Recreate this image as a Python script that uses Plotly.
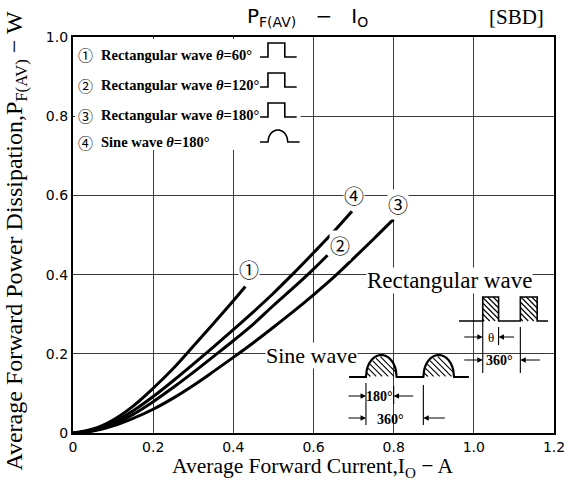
import math
import plotly.graph_objects as go

# ---------------- data ----------------
x1 = [0, 0.05, 0.1, 0.15, 0.2, 0.25, 0.3, 0.35, 0.4, 0.43]
y1 = [0, 0.010, 0.033, 0.068, 0.113, 0.163, 0.219, 0.276, 0.334, 0.370]

x2 = [0, 0.05, 0.1, 0.15, 0.2, 0.25, 0.3, 0.35, 0.4, 0.45, 0.5, 0.55, 0.6, 0.635]
y2 = [0, 0.006, 0.022, 0.047, 0.079, 0.115, 0.153, 0.193, 0.233, 0.275, 0.322, 0.367, 0.414, 0.449]

x3 = [0, 0.05, 0.1, 0.15, 0.2, 0.25, 0.3, 0.35, 0.4, 0.45, 0.5, 0.55, 0.6, 0.65, 0.7, 0.75, 0.8]
y3 = [0, 0.005, 0.018, 0.037, 0.060, 0.088, 0.120, 0.155, 0.191, 0.228, 0.267, 0.307, 0.349, 0.393, 0.441, 0.490, 0.540]

x4 = [0, 0.05, 0.1, 0.15, 0.2, 0.25, 0.3, 0.35, 0.4, 0.45, 0.5, 0.55, 0.6, 0.65, 0.696]
y4 = [0, 0.008, 0.027, 0.056, 0.092, 0.132, 0.174, 0.217, 0.261, 0.306, 0.353, 0.403, 0.455, 0.508, 0.560]

curve_marks = ["①", "②", "③", "④"]
legend_labels = [
    "Rectangular wave <i>θ</i>=60°",
    "Rectangular wave <i>θ</i>=120°",
    "Rectangular wave <i>θ</i>=180°",
    "Sine wave <i>θ</i>=180°",
]
x_ticks = [0, 0.2, 0.4, 0.6, 0.8, 1.0, 1.2]
x_ticktext = ["0", "0.2", "0.4", "0.6", "0.8", "1.0", "1.2"]
y_ticks = [0, 0.2, 0.4, 0.6, 0.8, 1.0]
y_ticktext = ["0", "0.2", "0.4", "0.6", "0.8", "1.0"]

# ---------------- layout geometry ----------------
W, H = 577, 480
L, R, T, B = 73, 559, 37, 433


def px(x):
    return (x - L) / (R - L)


def py(y):
    return (B - y) / (B - T)


fig = go.Figure()
for xs, ys in [(x1, y1), (x2, y2), (x3, y3), (x4, y4)]:
    fig.add_trace(go.Scatter(x=xs, y=ys, mode="lines", line=dict(color="black", width=3, shape="spline"),
                             showlegend=False, hoverinfo="skip"))

shapes = []
annotations = []


def line(xa, ya, xb, yb, w=1.3):
    shapes.append(dict(type="line", xref="paper", yref="paper", layer="above",
                       x0=px(xa), y0=py(ya), x1=px(xb), y1=py(yb),
                       line=dict(color="black", width=w)))


def poly(points, w=1.6):
    d = "M " + " L ".join(f"{px(a):.5f},{py(b):.5f}" for a, b in points)
    shapes.append(dict(type="path", xref="paper", yref="paper", layer="above", path=d,
                       line=dict(color="black", width=w)))


def text(x, y, s, size=13, family="Liberation Serif", xanchor="center", bg=None, color="black"):
    a = dict(xref="paper", yref="paper", x=px(x), y=py(y), text=s, showarrow=False,
             xanchor=xanchor, yanchor="middle", font=dict(family=family, size=size, color=color))
    if bg:
        a["bgcolor"] = bg
        a["borderpad"] = 0
    annotations.append(a)


def arrow(x, y, xt, yt):
    annotations.append(dict(xref="paper", yref="paper", x=px(x), y=py(y), ax=xt - x, ay=yt - y,
                            text="", showarrow=True, arrowhead=2, arrowsize=0.9, arrowwidth=1.2,
                            arrowcolor="black", standoff=0))


def ellipse_top(xa, xb, yb, h, x):
    xc = (xa + xb) / 2
    a = (xb - xa) / 2
    t = max(0.0, 1 - ((x - xc) / a) ** 2)
    return yb - h * math.sqrt(t)


def hatch_rect(x0, x1_, y0, y1_, step=5.5):
    c = y0 - x1_
    while c < y1_ - x0:
        xa = max(x0, y0 - c)
        xb = min(x1_, y1_ - c)
        if xb > xa:
            line(xa, xa + c, xb, xb + c, 1.1)
        c += step


def hatch_hump(xa, xb, yb, h, step=6.0):
    c = (yb - h) - xb
    while c < yb - xa:
        pts = []
        n = 200
        for i in range(n + 1):
            x = xa + (xb - xa) * i / n
            y = x + c
            if ellipse_top(xa, xb, yb, h, x) + 1.5 <= y <= yb - 0.5:
                pts.append((x, y))
        if len(pts) > 2:
            line(pts[0][0], pts[0][1], pts[-1][0], pts[-1][1], 1.1)
        c += step


# white area behind the in-plot legend (grid interrupted there)
shapes.append(dict(type="rect", xref="paper", yref="paper", layer="above",
                   x0=px(75), x1=px(303), y0=py(150), y1=py(39),
                   fillcolor="white", line=dict(width=0)))

# legend rows
rows = [55, 85, 115, 142]
for i, ry in enumerate(rows):
    text(86, ry, curve_marks[i], size=15, family="Noto Sans CJK JP")
    text(99, ry, "<b>" + legend_labels[i] + "</b>", size=14.5, family="Liberation Serif", xanchor="left")

# legend icons
for ry in rows[:3]:
    poly([(262, ry + 2), (270, ry + 2), (270, ry - 12), (287, ry - 12), (287, ry + 2), (299, ry + 2)])
ry = rows[3]
hump = [(262, ry)]
for i in range(31):
    x = 270 + 20 * i / 30
    hump.append((x, ellipse_top(270, 290, ry, 12, x)))
hump.append((302, ry))
poly(hump)

# curve number labels
for mk, (lx, ly) in zip(curve_marks, [(0.439, 0.412), (0.666, 0.473), (0.81, 0.577), (0.70, 0.60)]):
    annotations.append(dict(x=lx, y=ly, xref="x", yref="y", text=mk, showarrow=False,
                            font=dict(family="Noto Sans CJK JP", size=20, color="black"),
                            bgcolor="white", borderpad=0))

# Rectangular wave diagram
text(453, 280, "Rectangular wave", size=23, bg="white")
poly([(463, 321), (487, 321), (487, 297), (503, 297), (503, 321), (525, 321), (525, 297),
      (542, 297), (542, 321), (553, 321)])
hatch_rect(487, 503, 297, 321)
hatch_rect(525, 542, 297, 321)
line(487, 321, 487, 373, 1.1)
line(503, 327, 503, 345, 1.1)
line(525, 327, 525, 373, 1.1)
arrow(487, 337, 467, 337)
arrow(503, 337, 520, 337)
arrow(487, 360, 467, 360)
arrow(525, 360, 546, 360)
text(495, 337, "θ", size=13, family="Liberation Sans Narrow")
text(504, 360, "<b>360°</b>", size=14, family="Liberation Sans Narrow")

# Sine wave diagram
text(314, 355, "Sine wave", size=22, bg="white")
sine = [(352, 377), (369, 377)]
for i in range(41):
    x = 369 + 31 * i / 40
    sine.append((x, ellipse_top(369, 400, 377, 22, x)))
sine += [(427, 377)]
for i in range(41):
    x = 427 + 31 * i / 40
    sine.append((x, ellipse_top(427, 458, 377, 22, x)))
sine += [(473, 377)]
poly(sine, 2.2)
hatch_hump(369, 400, 377, 22)
hatch_hump(427, 458, 377, 22)
line(369, 383, 369, 425, 1.1)
line(397, 386, 397, 404, 1.1)
line(427, 385, 427, 425, 1.1)
arrow(369, 396, 350, 396)
arrow(397, 396, 418, 396)
arrow(369, 418, 350, 418)
arrow(427, 418, 450, 418)
text(383, 396, "<b>180°</b>", size=14, family="Liberation Sans Narrow")
text(394, 419, "<b>360°</b>", size=14, family="Liberation Sans Narrow")

# titles
text(310, 17, "P<sub>F(AV)</sub>   −   I<sub>O</sub>", size=20, family="DejaVu Sans")
text(521, 17, "[SBD]", size=21, family="Liberation Serif")
text(315, 467.5, "Average Forward Current,I<sub>O</sub> − A", size=21.5, family="Liberation Serif")
annotations.append(dict(xref="paper", yref="paper", x=px(15), y=py(241), textangle=-90,
                        text="Average Forward Power Dissipation,P<sub>F(AV)</sub> − W",
                        showarrow=False, xanchor="center", yanchor="middle",
                        font=dict(family="Liberation Serif", size=24, color="black")))

axis_common = dict(showgrid=True, gridcolor="#3a3a3a", gridwidth=1, zeroline=False,
                   showline=True, linecolor="black", linewidth=2.2, mirror=True, ticks="",
                   tickfont=dict(family="DejaVu Sans", size=14, color="black"))

fig.update_layout(
    width=W, height=H,
    margin=dict(l=L, r=W - R, t=T, b=H - B),
    paper_bgcolor="white", plot_bgcolor="white",
    xaxis=dict(range=[0, 1.2], tickvals=x_ticks, ticktext=x_ticktext, **axis_common),
    yaxis=dict(range=[0, 1.0], tickvals=y_ticks, ticktext=y_ticktext, **axis_common),
    shapes=shapes, annotations=annotations, showlegend=False,
)

fig.write_html("out.html", config={"displayModeBar": False},
               post_script="document.body.style.margin='0';document.body.style.overflow='hidden';")
